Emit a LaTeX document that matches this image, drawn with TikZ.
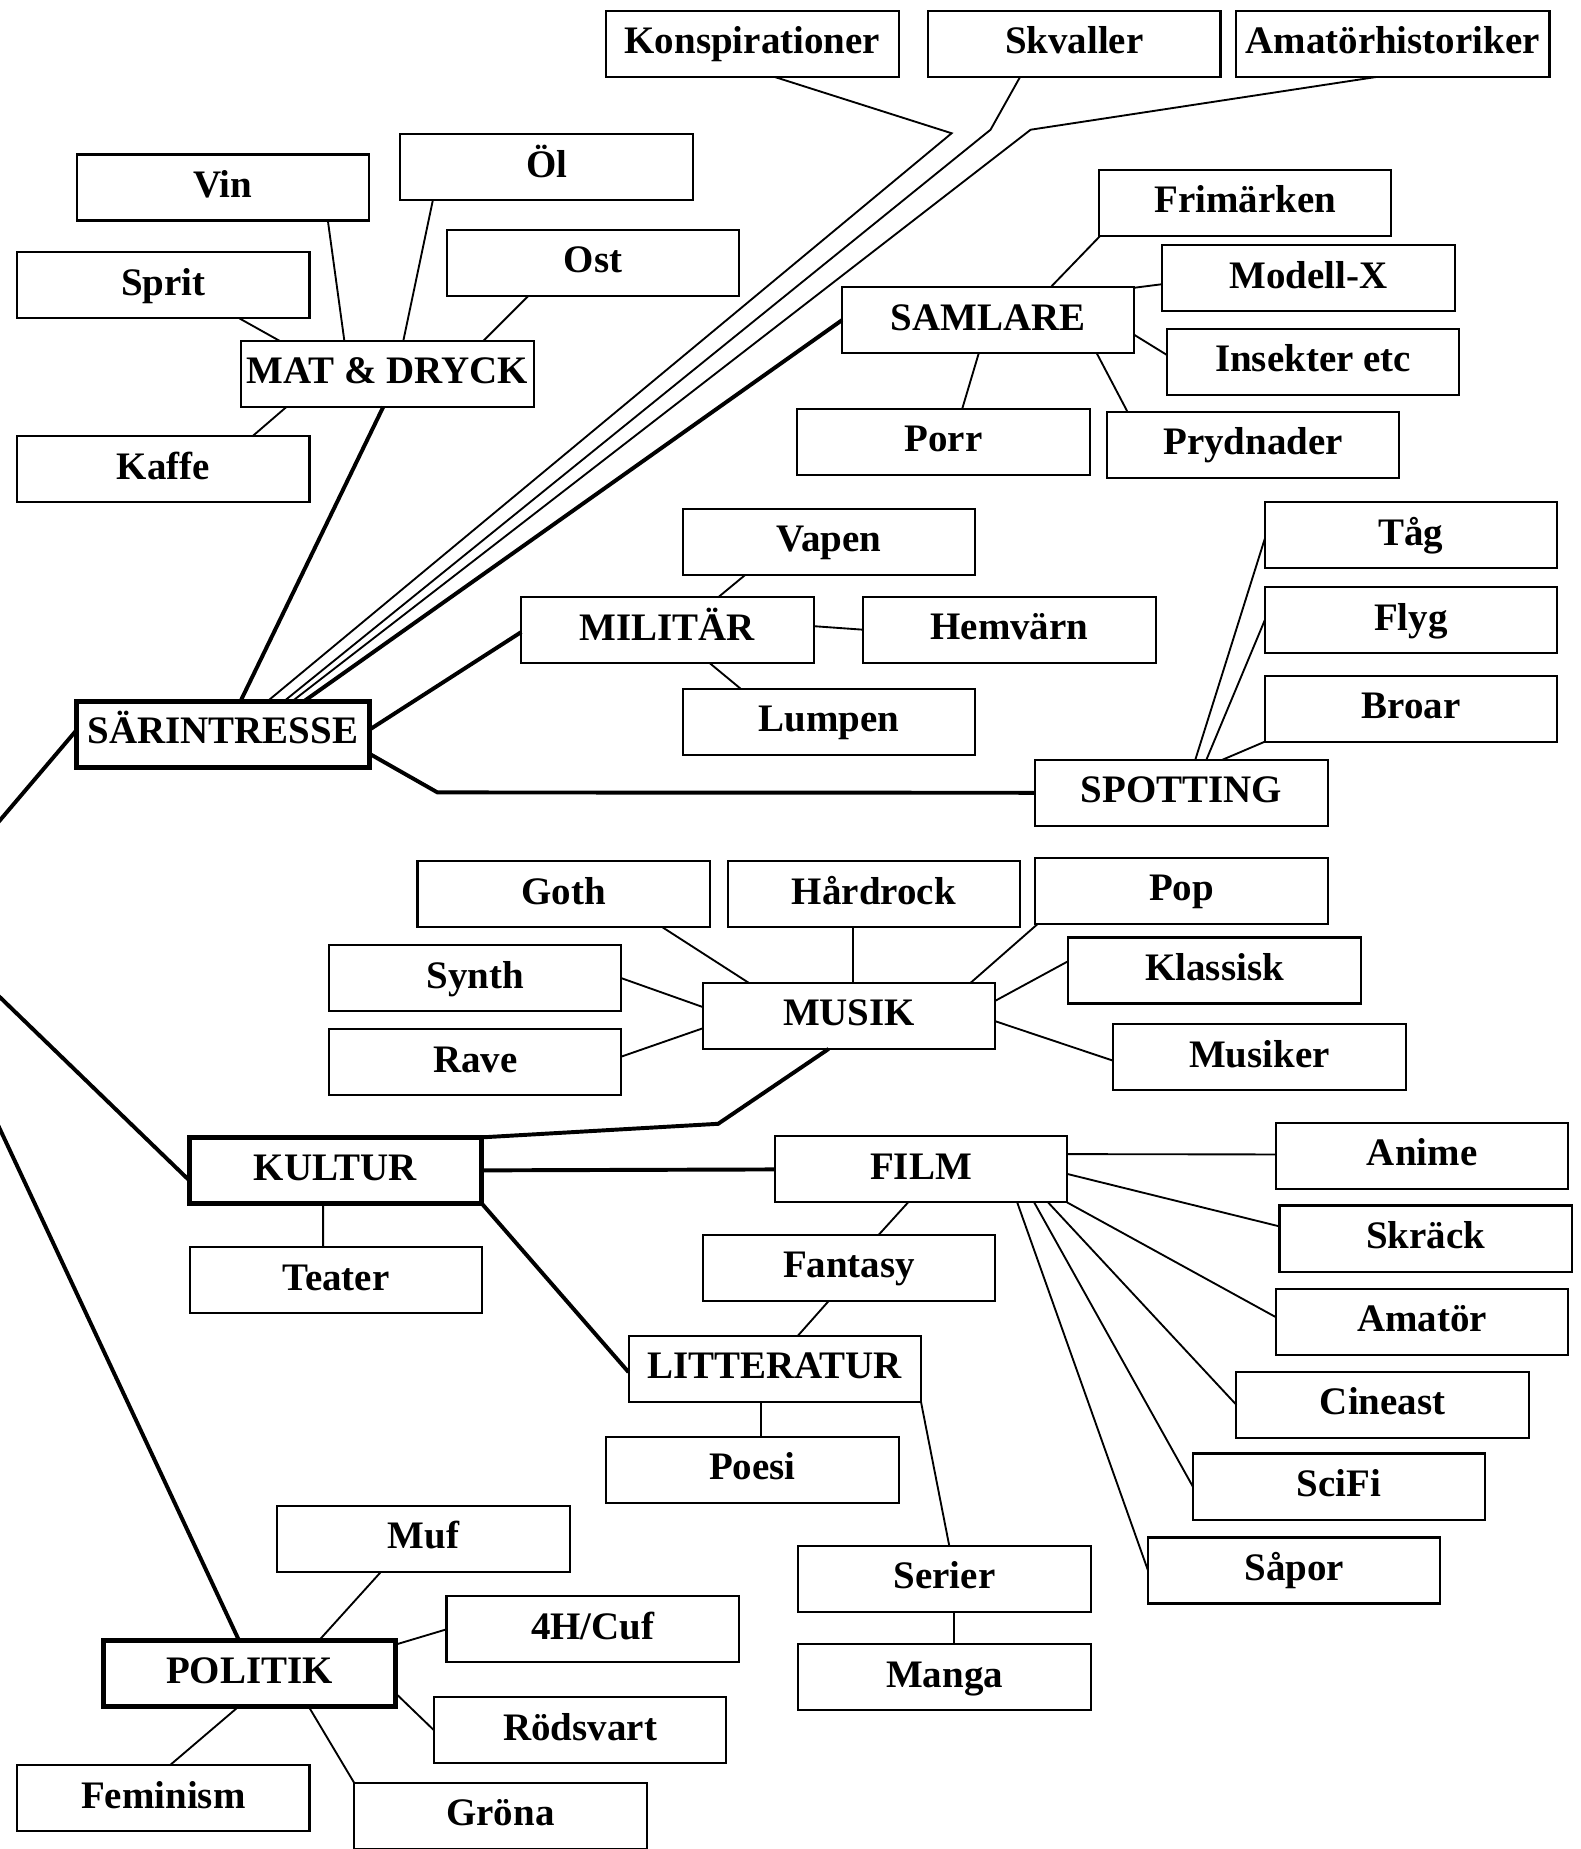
\documentclass[tikz,border=0pt]{standalone}
\usepackage{fontspec}
\setmainfont{Liberation Serif}
\usetikzlibrary{calc}
\begin{document}
\begin{tikzpicture}[x=0.02cm,y=-0.02cm,
  box/.style={draw, line width=1pt, minimum width=4.96cm, minimum height=1.12cm,
    inner sep=0pt, outer sep=0pt, text height=0.436cm, text depth=0.1cm,
    font=\bfseries\fontsize{18.8pt}{22pt}\selectfont},
  hbox/.style={box, line width=2.4pt},
  ln/.style={line width=0.9pt},
  lnb/.style={line width=1.9pt}]
\useasboundingbox (0,0) rectangle (1340,1568);
\fill[white] (0,0) rectangle (1340,1568);
\clip (0,0) rectangle (1340,1568);

% top row
\node[box] (konsp) at (638,37.3) {Konspirationer};
\node[box] (skval) at (911,37.3) {Skvaller};
\node[box, minimum width=5.32cm] (amhist) at (1181,37.3) {Amatörhistoriker};
% mat & dryck
\node[box] (vin) at (189,159) {Vin};
\node[box] (ol) at (463.5,142) {Öl};
\node[box] (sprit) at (138.5,242) {Sprit};
\node[box] (ost) at (503,223) {Ost};
\node[box] (mat) at (328.5,317) {MAT \& DRYCK};
\node[box] (kaffe) at (138.5,398) {Kaffe};
% samlare
\node[box] (frim) at (1056,172) {Frimärken};
\node[box] (modell) at (1109.5,236) {Modell-X};
\node[box] (samlare) at (838,271.5) {SAMLARE};
\node[box] (insekt) at (1113.5,307) {Insekter etc};
\node[box] (porr) at (800,374.5) {Porr};
\node[box] (pryd) at (1062.7,377) {Prydnader};
% militar
\node[box] (vapen) at (703,459.5) {Vapen};
\node[box] (milit) at (566,534.5) {MILITÄR};
\node[box] (hemv) at (856,534) {Hemvärn};
\node[box] (lumpen) at (703,612) {Lumpen};
% spotting
\node[box] (tag) at (1196.5,454) {Tåg};
\node[box] (flyg) at (1196.5,526) {Flyg};
\node[box] (broar) at (1196.5,601) {Broar};
\node[hbox] (sar) at (189,622.5) {SÄRINTRESSE};
\node[box] (spot) at (1002,672.3) {SPOTTING};
% musik
\node[box] (goth) at (478,758.5) {Goth};
\node[box] (hard) at (741,758.5) {Hårdrock};
\node[box] (pop) at (1002,755.5) {Pop};
\node[box] (synth) at (403,829.5) {Synth};
\node[box] (klass) at (1030,823) {Klassisk};
\node[box] (musik) at (720,861.5) {MUSIK};
\node[box] (rave) at (403,900.7) {Rave};
\node[box] (musiker) at (1068,896.5) {Musiker};
% kultur
\node[hbox] (kultur) at (284.5,992.5) {KULTUR};
\node[box] (film) at (781,991.7) {FILM};
\node[box] (anime) at (1206,980) {Anime};
\node[box] (teater) at (285,1085.6) {Teater};
\node[box] (fantasy) at (720,1075.3) {Fantasy};
\node[box] (skrack) at (1209,1050.3) {Skräck};
\node[box] (amator) at (1206,1121) {Amatör};
\node[box] (litt) at (657,1160.6) {LITTERATUR};
\node[box] (cineast) at (1172.5,1191.4) {Cineast};
\node[box] (poesi) at (638,1246.5) {Poesi};
\node[box] (scifi) at (1135.5,1260.6) {SciFi};
\node[box] (serier) at (801,1339) {Serier};
\node[box] (sapor) at (1097.5,1331.8) {Såpor};
\node[box] (manga) at (801,1422.3) {Manga};
% politik
\node[box] (muf) at (359,1305) {Muf};
\node[box] (h4) at (502.6,1381.7) {4H/Cuf};
\node[hbox] (politik) at (211.6,1419) {POLITIK};
\node[box] (rods) at (492,1467.3) {Rödsvart};
\node[box] (femin) at (138.5,1525) {Feminism};
\node[box] (grona) at (424.4,1540) {Gröna};

% helper coordinates
\coordinate (bk) at (807,113);
\coordinate (bs) at (840,110);
\coordinate (ba) at (874,110);
\coordinate (bsp) at (371,672);
\coordinate (bm) at (609,953);
\coordinate (hubA) at (-70,778);
\coordinate (hubB) at (-84,778);

% mat & dryck
\draw[ln] ($(sprit.south west)+(188.5,0)$) -- ($(mat.north west)+(32.5,0)$);
\draw[ln] ($(vin.south west)+(213,0)$) -- ($(mat.north west)+(87.5,0)$);
\draw[ln] ($(ol.south west)+(27.5,0)$) -- ($(mat.north west)+(137.5,0)$);
\draw[ln] ($(ost.south west)+(69,0)$) -- ($(mat.north west)+(205.5,0)$);
\draw[ln] ($(kaffe.north west)+(199.5,0)$) -- ($(mat.south west)+(38.5,0)$);
\draw[lnb] ($(mat.south west)+(120.5,0)$) -- ($(sar.north west)+(139,0)$);
% top lines
\draw[ln] ($(konsp.south west)+(143,0)$) -- (bk) -- ($(sar.north west)+(162,0)$);
\draw[ln] ($(skval.south west)+(78,0)$) -- (bs) -- ($(sar.north west)+(176,0)$);
\draw[ln] ($(amhist.south west)+(119,0)$) -- (ba) -- ($(sar.north west)+(183,0)$);
\draw[lnb] (samlare.west) -- ($(sar.north west)+(193,0)$);
% samlare
\draw[ln] ($(frim.south west)+(1,0)$) -- ($(samlare.north west)+(177,0)$);
\draw[ln] ($(modell.north west)+(0,33)$) -- ($(samlare.north east)+(0,0.5)$);
\draw[ln] ($(insekt.north west)+(0,22)$) -- ($(samlare.north east)+(0,40.5)$);
\draw[ln] ($(porr.north west)+(140,0)$) -- ($(samlare.south west)+(116,0)$);
\draw[ln] ($(pryd.north west)+(17.3,0)$) -- ($(samlare.south west)+(216,0)$);
% sarintresse
\draw[lnb] ($(sar.north east)+(0,24.5)$) -- ($(milit.north west)+(0,29.5)$);
\draw[lnb] ($(sar.north east)+(0,44.5)$) -- (bsp) -- (spot.west);
% militar
\draw[ln] ($(vapen.south west)+(53,0)$) -- ($(milit.north west)+(167,0)$);
\draw[ln] ($(milit.north east)+(0,24.5)$) -- ($(hemv.north west)+(0,28)$);
\draw[ln] ($(milit.south west)+(160,0)$) -- ($(lumpen.north west)+(49,0)$);
% spotting
\draw[ln] ($(tag.north west)+(0,31)$) -- ($(spot.north west)+(135.6,0)$);
\draw[ln] ($(flyg.north west)+(0,28)$) -- ($(spot.north west)+(145,0)$);
\draw[ln] (broar.south west) -- ($(spot.north west)+(158.6,0)$);
% off-page links
\draw[lnb] ($(sar.north west)+(0,24.5)$) -- (hubA) -- ($(kultur.north west)+(0,36.5)$);
\draw[lnb] (hubB) -- ($(politik.north west)+(115,0)$);
% musik
\draw[ln] ($(goth.south west)+(208,0)$) -- ($(musik.north west)+(39,0)$);
\draw[ln] ($(hard.south west)+(106.6,0)$) -- ($(musik.north west)+(127.6,0)$);
\draw[ln] ($(pop.south west)+(2,0)$) -- ($(musik.north west)+(227,0)$);
\draw[ln] ($(synth.north east)+(0,28)$) -- ($(musik.north west)+(0,20.5)$);
\draw[ln] ($(rave.north east)+(0,23.3)$) -- ($(musik.north west)+(0,38.5)$);
\draw[ln] ($(klass.north west)+(0,20)$) -- ($(musik.north east)+(0,15.2)$);
\draw[ln] ($(musiker.north west)+(0,31)$) -- ($(musik.north east)+(0,32.5)$);
% kultur
\draw[lnb] ($(musik.south west)+(106.7,0)$) -- (bm) -- (kultur.north east);
\draw[lnb] (kultur.east) -- (film.west);
\draw[lnb] (kultur.south east) -- ($(litt.north west)+(0,31)$);
\draw[ln] ($(kultur.south west)+(113.5,0)$) -- ($(teater.north west)+(113,0)$);
% film
\draw[ln] ($(film.north east)+(0,15)$) -- ($(anime.north west)+(0,27)$);
\draw[ln] ($(film.north east)+(0,31.8)$) -- ($(skrack.north west)+(0,17.7)$);
\draw[ln] (film.south east) -- ($(amator.north west)+(0,24)$);
\draw[ln] ($(film.south west)+(231.8,0)$) -- (cineast.west);
\draw[ln] ($(film.south west)+(220,0)$) -- (scifi.west);
\draw[ln] ($(film.south west)+(205.6,0)$) -- (sapor.west);
\draw[ln] ($(film.south west)+(113,0)$) -- ($(fantasy.north west)+(149,0)$);
\draw[ln] ($(fantasy.south west)+(106.7,0)$) -- ($(litt.north west)+(143.7,0)$);
% litteratur
\draw[ln] ($(litt.south west)+(112.6,0)$) -- ($(poesi.north west)+(131.6,0)$);
\draw[ln] (litt.south east) -- ($(serier.north west)+(128,0)$);
\draw[ln] ($(serier.south west)+(131.7,0)$) -- ($(manga.north west)+(131.7,0)$);
% politik
\draw[ln] ($(muf.south west)+(88,0)$) -- ($(politik.north west)+(183,0)$);
\draw[ln] (h4.west) -- ($(politik.north east)+(0,3.6)$);
\draw[ln] (rods.west) -- ($(politik.north east)+(0,45)$);
\draw[ln] ($(femin.north west)+(129.5,0)$) -- ($(politik.south west)+(115,0)$);
\draw[ln] (grona.north west) -- ($(politik.south west)+(174,0)$);
\end{tikzpicture}
\end{document}
